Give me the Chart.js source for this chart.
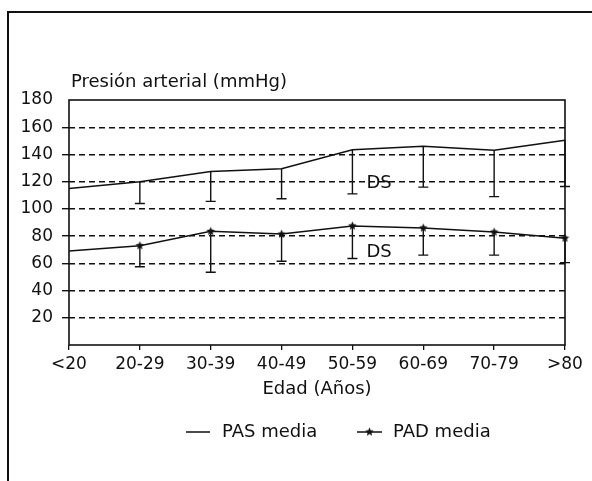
<!DOCTYPE html>
<html>
<head>
<meta charset="utf-8">
<style>
  html, body { margin: 0; padding: 0; background: #fff; }
  #chart { display: block; }
</style>
<script src="https://cdn.jsdelivr.net/npm/chart.js@4.4.1/dist/chart.umd.min.js"></script>
</head>
<body>
<canvas id="chart" width="592" height="481"></canvas>
<script>
// age groups on the x axis
const ageGroups = ['<20', '20-29', '30-39', '40-49', '50-59', '60-69', '70-79', '>80'];

// systolic (PAS) and diastolic (PAD) means, with the standard deviation drawn below each point
const pasMean = [115, 120, 127.5, 129.5, 143.5, 146, 143, 150.5];
const pasSd = [null, 16, 22, 22, 32.5, 30, 34, 34];
const padMean = [69, 73, 83.5, 81.5, 87.5, 86, 83, 78.5];
const padSd = [null, 15.5, 30, 20, 24, 20, 17, 18];

const seriesNames = ['PAS media', 'PAD media'];
const yMin = 0, yMax = 180, yStep = 20;

const FONT = 'DejaVu Sans';
const INK = '#111';

// small filled star used as point marker for PAD
function makeStar(r) {
  const c = document.createElement('canvas');
  c.width = c.height = Math.ceil(r * 2 + 2);
  const g = c.getContext('2d');
  const cx = c.width / 2, cy = c.height / 2;
  g.beginPath();
  for (let i = 0; i < 10; i++) {
    const rad = i % 2 === 0 ? r : r * 0.45;
    const a = -Math.PI / 2 + i * Math.PI / 5;
    g.lineTo(cx + rad * Math.cos(a), cy + rad * Math.sin(a));
  }
  g.closePath();
  g.fillStyle = INK;
  g.fill();
  return c;
}
const starImg = makeStar(4.5);

// frame around the figure, box around the plot, SD bars, DS notes, y title and legend
const decorPlugin = {
  id: 'decor',
  afterDatasetsDraw(chart) {
    const { ctx, scales: { x, y } } = chart;
    ctx.save();
    ctx.strokeStyle = INK;
    ctx.lineWidth = 1.4;
    chart.data.datasets.forEach(ds => {
      ds.sd.forEach((sd, i) => {
        if (sd == null) return;
        const px = x.getPixelForValue(i);
        const top = y.getPixelForValue(ds.data[i]);
        const bot = y.getPixelForValue(ds.data[i] - sd);
        ctx.beginPath();
        ctx.moveTo(px, top);
        ctx.lineTo(px, bot);
        ctx.moveTo(px - 5, bot);
        ctx.lineTo(px + 5, bot);
        ctx.stroke();
      });
    });
    ctx.restore();
  },
  afterDraw(chart) {
    const { ctx, chartArea: a, scales: { x, y } } = chart;
    ctx.save();
    // outer figure frame (left and top only)
    ctx.strokeStyle = INK;
    ctx.lineWidth = 2;
    ctx.beginPath();
    ctx.moveTo(8, 481);
    ctx.lineTo(8, 12);
    ctx.lineTo(592, 12);
    ctx.stroke();

    // plot box
    ctx.lineWidth = 1.6;
    ctx.strokeRect(a.left, a.top, a.right - a.left, a.bottom - a.top);

    // y axis title
    ctx.fillStyle = INK;
    ctx.font = '18px ' + FONT;
    ctx.textAlign = 'left';
    ctx.textBaseline = 'alphabetic';
    ctx.fillText('Presión arterial (mmHg)', 71, 87);

    // DS notes next to the 50-59 bars
    ctx.textBaseline = 'middle';
    const dsX = x.getPixelForValue(4) + 14;
    ctx.fillText('DS', dsX, y.getPixelForValue(119));
    ctx.fillText('DS', dsX, y.getPixelForValue(68));

    // legend
    const ly = 432;
    ctx.lineWidth = 1.6;
    ctx.beginPath();
    ctx.moveTo(186, ly);
    ctx.lineTo(210, ly);
    ctx.moveTo(357, ly);
    ctx.lineTo(382, ly);
    ctx.stroke();
    ctx.drawImage(starImg, 369.5 - starImg.width / 2, ly - starImg.height / 2);
    ctx.fillText(chart.data.datasets[0].label, 222, ly);
    ctx.fillText(chart.data.datasets[1].label, 393, ly);
    ctx.restore();
  }
};

new Chart(document.getElementById('chart').getContext('2d'), {
  type: 'line',
  data: {
    labels: ageGroups,
    datasets: [
      {
        label: seriesNames[0],
        data: pasMean,
        sd: pasSd,
        borderColor: INK,
        borderWidth: 1.5,
        pointRadius: 0,
        tension: 0,
        fill: false
      },
      {
        label: seriesNames[1],
        data: padMean,
        sd: padSd,
        borderColor: INK,
        borderWidth: 1.5,
        pointStyle: starImg,
        pointRadius: padMean.map((v, i) => (padSd[i] == null ? 0 : 4)),
        tension: 0,
        fill: false
      }
    ]
  },
  options: {
    responsive: false,
    animation: false,
    devicePixelRatio: 1,
    layout: { padding: { left: 8, right: 27, top: 100, bottom: 81 } },
    plugins: {
      legend: { display: false },
      tooltip: { enabled: false }
    },
    scales: {
      x: {
        offset: false,
        ticks: { color: INK, font: { family: FONT, size: 17 }, padding: 4, maxRotation: 0, autoSkip: false },
        grid: { drawOnChartArea: false, drawTicks: true, tickLength: 5, color: INK, lineWidth: 1.3 },
        border: { display: false },
        title: {
          display: true,
          text: 'Edad (Años)',
          color: INK,
          font: { family: FONT, size: 18 },
          padding: { top: 0, bottom: 0 }
        }
      },
      y: {
        min: yMin,
        max: yMax,
        afterFit(scale) { scale.width = 61; },
        ticks: {
          stepSize: yStep,
          color: INK,
          font: { family: FONT, size: 17 },
          padding: 9,
          callback: v => (v === yMin ? '' : v)
        },
        grid: {
          color: c => (c.tick && (c.tick.value === yMin || c.tick.value === yMax)) ? 'rgba(0,0,0,0)' : INK,
          lineWidth: 1.4,
          tickLength: 7
        },
        border: { display: false, dash: [6, 4] }
      }
    }
  },
  plugins: [decorPlugin]
});
</script>
</body>
</html>
